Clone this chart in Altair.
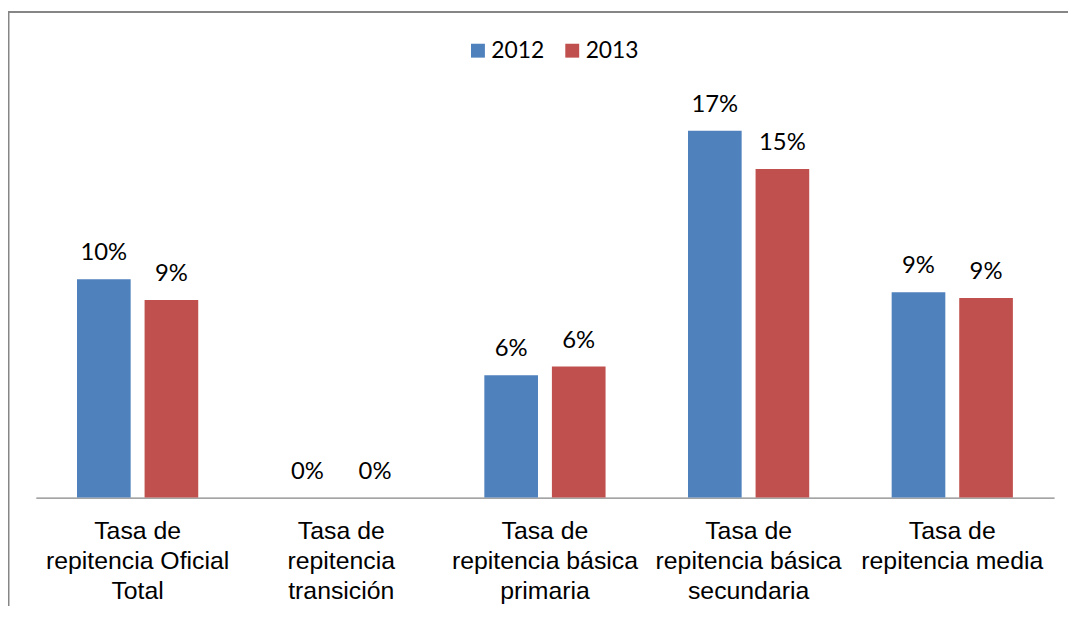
import altair as alt
import pandas as pd

categories = [
    "Tasa de\nrepitencia Oficial\nTotal",
    "Tasa de\nrepitencia\ntransición",
    "Tasa de\nrepitencia básica\nprimaria",
    "Tasa de\nrepitencia básica\nsecundaria",
    "Tasa de\nrepitencia media",
]
years = ["2012", "2013"]
values_2012 = [0.100, 0.0, 0.056, 0.168, 0.094]
values_2013 = [0.0905, 0.0, 0.060, 0.1505, 0.0914]
colors = ["#4F81BD", "#C0504D"]

rows = []
for c, v1, v2 in zip(categories, values_2012, values_2013):
    rows.append({"cat": c, "year": years[0], "value": v1})
    rows.append({"cat": c, "year": years[1], "value": v2})
df = pd.DataFrame(rows)

W, H = 1026, 440

x_enc = alt.X("cat:N", sort=categories, scale=alt.Scale(paddingInner=0, paddingOuter=0),
              axis=alt.Axis(title=None, labelAngle=0, ticks=False, tickSize=0,
                            domainColor="#868686", domainWidth=1.3,
                            labelFont="Liberation Sans", labelFontSize=25,
                            labelColor="#000000", labelLineHeight=30.5,
                            labelPadding=21, labelBaseline="top", labelLimit=0,
                            labelOverlap=False,
                            labelExpr="split(datum.label, '\\n')"))
xoff = alt.XOffset("year:N", sort=years, scale=alt.Scale(paddingInner=0.206, paddingOuter=0.61))
y_enc = alt.Y("value:Q", scale=alt.Scale(domain=[0, 0.2], nice=False), axis=None)

bars = alt.Chart(df).mark_bar().encode(
    x=x_enc,
    xOffset=xoff,
    y=y_enc,
    color=alt.Color("year:N", sort=years,
                    scale=alt.Scale(domain=years, range=colors),
                    legend=alt.Legend(title=None, orient="none", legendX=434, legendY=-22,
                                      direction="horizontal", symbolType="square",
                                      symbolSize=196, symbolStrokeWidth=0,
                                      labelFont="Lato", labelFontSize=23,
                                      labelColor="#000000", labelOffset=2,
                                      columnPadding=16, padding=0)),
)

labels = alt.Chart(df).mark_text(font="Lato", fontSize=24, color="#000000",
                                 baseline="alphabetic", dy=-19).encode(
    x=x_enc,
    xOffset=xoff,
    y=y_enc,
    text=alt.Text("value:Q", format=".0%"),
)

frame_df = pd.DataFrame({"k": [0]})
frame_top = alt.Chart(frame_df).mark_rule(color="#868686", strokeWidth=2).encode(
    x=alt.value(-27.5), x2=alt.value(1045), y=alt.value(-49.3))
frame_left = alt.Chart(frame_df).mark_rule(color="#868686", strokeWidth=2).encode(
    x=alt.value(-27.5), y=alt.value(-50.3), y2=alt.value(560))

chart = alt.layer(frame_top, frame_left, bars, labels).properties(
    width=W, height=H,
    background="#ffffff",
    autosize=alt.AutoSizeParams(type="none"),
    padding={"left": 28, "top": 51, "right": 14, "bottom": 107},
).configure_view(stroke="transparent", strokeWidth=0)

chart.save("out.html", embed_options={"renderer": "svg", "actions": False})
